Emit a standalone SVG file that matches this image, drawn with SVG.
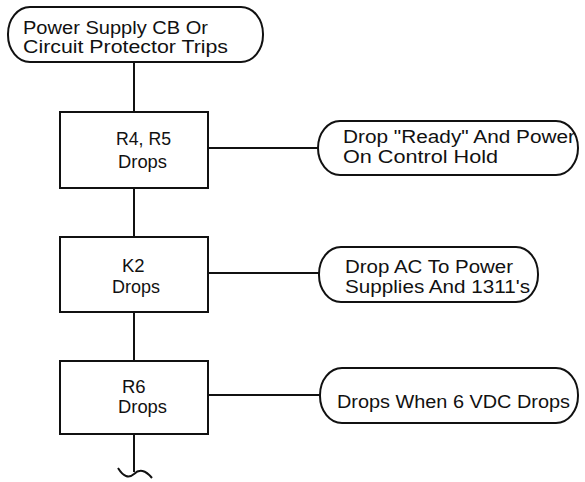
<svg xmlns="http://www.w3.org/2000/svg" width="585" height="482" viewBox="0 0 585 482">
<style>
.s{fill:none;stroke:#111;stroke-width:2}
.n{fill:#fff;stroke:#111;stroke-width:2}
text{font-family:"Liberation Sans",Arial,sans-serif;font-size:17.5px;fill:#111}
.b{font-size:18.5px}
</style>
<rect width="585" height="482" fill="#fff"/>
<g id="connectors">
<line class="s" x1="134" y1="62" x2="134" y2="112"/>
<line class="s" x1="134" y1="188" x2="134" y2="237"/>
<line class="s" x1="134" y1="312" x2="134" y2="361"/>
<line class="s" x1="134" y1="434" x2="134" y2="472"/>
<path class="s" d="M118,468 Q126,481 134,474 Q142,466 152,478"/>
<line class="s" x1="208" y1="148" x2="318" y2="148"/>
<line class="s" x1="208" y1="273" x2="319" y2="273"/>
<line class="s" x1="208" y1="395" x2="320" y2="395"/>
</g>
<g id="start">
<rect class="n" x="8" y="7" width="255" height="55" rx="22" ry="27"/>
<text x="23" y="34" textLength="185" lengthAdjust="spacingAndGlyphs">Power Supply CB Or</text>
<text x="23" y="53" textLength="205" lengthAdjust="spacingAndGlyphs">Circuit Protector Trips</text>
</g>
<g id="r4r5">
<rect class="n" x="60" y="112" width="148" height="76"/>
<text class="b" x="116" y="145" textLength="55" lengthAdjust="spacingAndGlyphs">R4, R5</text>
<text class="b" x="118" y="168" textLength="49" lengthAdjust="spacingAndGlyphs">Drops</text>
</g>
<g id="k2">
<rect class="n" x="60" y="237" width="148" height="75"/>
<text class="b" x="122" y="272">K2</text>
<text class="b" x="112" y="293" textLength="48" lengthAdjust="spacingAndGlyphs">Drops</text>
</g>
<g id="r6">
<rect class="n" x="60" y="361" width="148" height="73"/>
<text class="b" x="122" y="393">R6</text>
<text class="b" x="118" y="413" textLength="49" lengthAdjust="spacingAndGlyphs">Drops</text>
</g>
<g id="t1">
<rect class="n" x="318" y="121" width="260" height="54" rx="22" ry="27"/>
<text x="343" y="143" textLength="232" lengthAdjust="spacingAndGlyphs">Drop "Ready" And Power</text>
<text x="343" y="163" textLength="155" lengthAdjust="spacingAndGlyphs">On Control Hold</text>
</g>
<g id="t2">
<rect class="n" x="319" y="247" width="219" height="55" rx="22" ry="27"/>
<text x="345" y="273" textLength="168" lengthAdjust="spacingAndGlyphs">Drop AC To Power</text>
<text x="345" y="293" textLength="185" lengthAdjust="spacingAndGlyphs">Supplies And 1311's</text>
</g>
<g id="t3">
<rect class="n" x="320" y="368" width="258" height="55" rx="22" ry="27"/>
<text x="337" y="408" textLength="233" lengthAdjust="spacingAndGlyphs">Drops When 6 VDC Drops</text>
</g>
</svg>
